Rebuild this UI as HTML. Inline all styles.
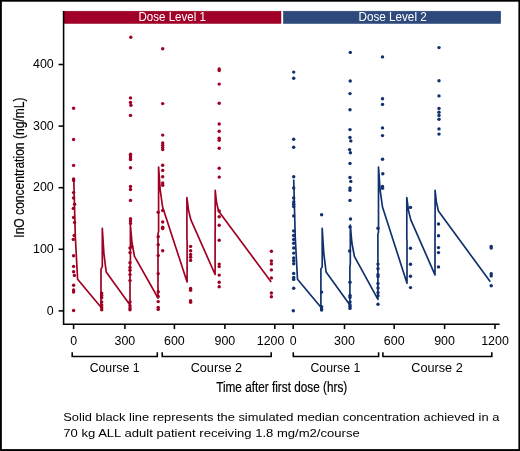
<!DOCTYPE html>
<html><head><meta charset="utf-8"><title>Figure</title>
<style>
html,body{margin:0;padding:0;background:#fff;}
body{width:520px;height:451px;overflow:hidden;position:relative;font-family:"Liberation Sans",sans-serif;}
</style></head><body>
<svg width="520" height="451" viewBox="0 0 520 451" style="position:absolute;left:0;top:0;will-change:transform;opacity:0.999">
<rect x="0" y="0" width="520" height="451" fill="#fff"/>
<rect x="0" y="0" width="520" height="1.7" fill="#000"/>
<rect x="0" y="449.1" width="520" height="1.9" fill="#000"/>
<rect x="0" y="0" width="1.85" height="451" fill="#000"/>
<rect x="518.4" y="0" width="1.6" height="451" fill="#000"/>
<rect x="63.2" y="11.2" width="217.8" height="12.3" fill="#a10028" stroke="#93001f" stroke-width="0.5"/>
<rect x="283.4" y="11.2" width="217.3" height="12.3" fill="#2e4a7c" stroke="#1f3c72" stroke-width="0.5"/>
<g stroke="#000" stroke-width="1.55" fill="none" stroke-linecap="butt">
<path d="M63.6,11 V324.9"/>
<path d="M63.6,324.15 H499.6"/>
<path d="M58.6,310.9 H63.6"/>
<path d="M58.6,249.3 H63.6"/>
<path d="M58.6,187.7 H63.6"/>
<path d="M58.6,126.1 H63.6"/>
<path d="M58.6,64.5 H63.6"/>
<path d="M73.6,324.15 V329.1"/>
<path d="M124.9,324.15 V329.1"/>
<path d="M174.4,324.15 V329.1"/>
<path d="M224.9,324.15 V329.1"/>
<path d="M274.8,324.15 V329.1"/>
<path d="M293.2,324.15 V329.1"/>
<path d="M344.5,324.15 V329.1"/>
<path d="M394.2,324.15 V329.1"/>
<path d="M444.6,324.15 V329.1"/>
<path d="M495.0,324.15 V329.1"/>
<path d="M72.2,352.3 V356.4 H157.3 V352.3"/>
<path d="M162.2,352.3 V356.4 H271.2 V352.3"/>
<path d="M293.3,352.3 V356.4 H378.6 V352.3"/>
<path d="M382.9,352.3 V356.4 H491.8 V352.3"/>
</g>
<polyline points="73.8,179.4 75.3,236.3 77.6,279.3 101.0,307.3 101.0,268.9 102.3,266.9 102.3,228.4 103.9,253.3 106.2,272.1 130.0,305.0 130.0,266.1 130.4,264.1 130.4,225.2 132.0,243.0 134.5,256.4 158.0,298.0 158.0,233.5 158.6,231.5 158.6,167.0 160.2,189.8 162.6,207.0 187.1,282.0 187.1,240.8 186.9,238.8 186.9,197.5 188.5,210.1 190.8,219.6 215.1,274.5 215.1,233.4 215.2,231.4 215.2,190.3 216.5,202.1 218.5,211.0 271.2,282.0" fill="none" stroke="#9f0023" stroke-width="1.68" stroke-linejoin="round"/>
<polyline points="293.7,179.4 295.2,236.3 297.5,279.3 320.9,307.3 320.9,268.9 322.2,266.9 322.2,228.4 323.8,253.3 326.1,272.1 349.9,305.0 349.9,266.1 350.3,264.1 350.3,225.2 351.9,243.0 354.4,256.4 377.9,299.4 377.9,234.2 378.5,232.2 378.5,167.0 380.1,189.8 382.5,207.0 407.0,283.2 407.0,241.3 406.8,239.3 406.8,197.5 408.4,210.1 410.7,219.6 435.0,274.9 435.0,233.6 435.1,231.6 435.1,190.3 436.4,202.1 438.4,211.0 490.3,281.8" fill="none" stroke="#10306e" stroke-width="1.68" stroke-linejoin="round"/>
<g fill="#9f0023"><circle cx="73.6" cy="108.3" r="1.72"/>
<circle cx="73.6" cy="139.5" r="1.72"/>
<circle cx="73.6" cy="165.4" r="1.72"/>
<circle cx="73.6" cy="179.0" r="1.72"/>
<circle cx="73.6" cy="180.4" r="1.72"/>
<circle cx="73.6" cy="192.6" r="1.72"/>
<circle cx="73.6" cy="198.0" r="1.72"/>
<circle cx="74.6" cy="204.3" r="1.72"/>
<circle cx="73.3" cy="208.4" r="1.72"/>
<circle cx="73.6" cy="217.5" r="1.72"/>
<circle cx="74.6" cy="222.4" r="1.72"/>
<circle cx="74.2" cy="235.5" r="1.72"/>
<circle cx="73.3" cy="239.4" r="1.72"/>
<circle cx="73.6" cy="255.7" r="1.72"/>
<circle cx="73.6" cy="266.4" r="1.72"/>
<circle cx="73.6" cy="271.8" r="1.72"/>
<circle cx="74.4" cy="275.4" r="1.72"/>
<circle cx="73.6" cy="285.2" r="1.72"/>
<circle cx="73.6" cy="290.0" r="1.72"/>
<circle cx="73.6" cy="292.1" r="1.72"/>
<circle cx="73.6" cy="310.5" r="1.72"/>
<circle cx="101.7" cy="293.1" r="1.72"/>
<circle cx="101.7" cy="295.4" r="1.72"/>
<circle cx="101.7" cy="297.7" r="1.72"/>
<circle cx="101.7" cy="301.9" r="1.72"/>
<circle cx="101.7" cy="305.0" r="1.72"/>
<circle cx="101.7" cy="307.4" r="1.72"/>
<circle cx="101.7" cy="309.7" r="1.72"/>
<circle cx="130.8" cy="37.2" r="1.72"/>
<circle cx="130.5" cy="97.9" r="1.72"/>
<circle cx="130.5" cy="102.5" r="1.72"/>
<circle cx="130.9" cy="105.3" r="1.72"/>
<circle cx="130.5" cy="115.4" r="1.72"/>
<circle cx="130.5" cy="154.2" r="1.72"/>
<circle cx="130.5" cy="156.1" r="1.72"/>
<circle cx="130.5" cy="158.0" r="1.72"/>
<circle cx="130.5" cy="159.6" r="1.72"/>
<circle cx="130.5" cy="167.8" r="1.72"/>
<circle cx="130.5" cy="186.4" r="1.72"/>
<circle cx="130.5" cy="189.5" r="1.72"/>
<circle cx="130.5" cy="200.4" r="1.72"/>
<circle cx="130.5" cy="218.7" r="1.72"/>
<circle cx="130.5" cy="220.9" r="1.72"/>
<circle cx="130.5" cy="223.4" r="1.72"/>
<circle cx="131.7" cy="246.4" r="1.72"/>
<circle cx="130.0" cy="248.0" r="1.72"/>
<circle cx="130.0" cy="252.6" r="1.72"/>
<circle cx="130.0" cy="262.7" r="1.72"/>
<circle cx="130.0" cy="267.5" r="1.72"/>
<circle cx="130.0" cy="270.3" r="1.72"/>
<circle cx="130.0" cy="274.6" r="1.72"/>
<circle cx="130.0" cy="280.6" r="1.72"/>
<circle cx="130.0" cy="301.9" r="1.72"/>
<circle cx="130.0" cy="305.8" r="1.72"/>
<circle cx="130.0" cy="308.1" r="1.72"/>
<circle cx="130.0" cy="309.7" r="1.72"/>
<circle cx="162.7" cy="48.8" r="1.72"/>
<circle cx="162.7" cy="103.6" r="1.72"/>
<circle cx="162.7" cy="135.1" r="1.72"/>
<circle cx="162.7" cy="142.9" r="1.72"/>
<circle cx="162.7" cy="145.2" r="1.72"/>
<circle cx="162.7" cy="147.6" r="1.72"/>
<circle cx="162.7" cy="149.6" r="1.72"/>
<circle cx="162.7" cy="165.2" r="1.72"/>
<circle cx="162.7" cy="170.4" r="1.72"/>
<circle cx="162.7" cy="176.8" r="1.72"/>
<circle cx="162.7" cy="183.0" r="1.72"/>
<circle cx="162.7" cy="185.3" r="1.72"/>
<circle cx="162.7" cy="210.5" r="1.72"/>
<circle cx="162.7" cy="222.0" r="1.72"/>
<circle cx="162.7" cy="227.2" r="1.72"/>
<circle cx="162.7" cy="228.6" r="1.72"/>
<circle cx="162.7" cy="250.8" r="1.72"/>
<circle cx="158.2" cy="212.3" r="1.72"/>
<circle cx="158.2" cy="236.8" r="1.72"/>
<circle cx="158.2" cy="244.8" r="1.72"/>
<circle cx="158.2" cy="255.4" r="1.72"/>
<circle cx="158.2" cy="273.6" r="1.72"/>
<circle cx="158.2" cy="291.8" r="1.72"/>
<circle cx="158.2" cy="296.5" r="1.72"/>
<circle cx="158.2" cy="301.6" r="1.72"/>
<circle cx="158.2" cy="307.4" r="1.72"/>
<circle cx="158.2" cy="309.4" r="1.72"/>
<circle cx="190.6" cy="246.4" r="1.72"/>
<circle cx="190.6" cy="250.7" r="1.72"/>
<circle cx="190.6" cy="254.5" r="1.72"/>
<circle cx="190.6" cy="257.3" r="1.72"/>
<circle cx="190.6" cy="260.4" r="1.72"/>
<circle cx="190.6" cy="288.5" r="1.72"/>
<circle cx="190.6" cy="290.3" r="1.72"/>
<circle cx="190.6" cy="300.7" r="1.72"/>
<circle cx="190.6" cy="302.2" r="1.72"/>
<circle cx="219.2" cy="69.0" r="1.72"/>
<circle cx="219.2" cy="70.6" r="1.72"/>
<circle cx="219.2" cy="84.1" r="1.72"/>
<circle cx="219.2" cy="103.3" r="1.72"/>
<circle cx="219.2" cy="124.0" r="1.72"/>
<circle cx="219.2" cy="131.3" r="1.72"/>
<circle cx="219.2" cy="138.3" r="1.72"/>
<circle cx="219.2" cy="140.3" r="1.72"/>
<circle cx="219.2" cy="148.2" r="1.72"/>
<circle cx="219.2" cy="168.2" r="1.72"/>
<circle cx="219.2" cy="177.1" r="1.72"/>
<circle cx="219.2" cy="210.9" r="1.72"/>
<circle cx="219.2" cy="216.7" r="1.72"/>
<circle cx="219.2" cy="225.3" r="1.72"/>
<circle cx="219.2" cy="240.2" r="1.72"/>
<circle cx="219.2" cy="264.1" r="1.72"/>
<circle cx="219.2" cy="266.6" r="1.72"/>
<circle cx="219.2" cy="275.1" r="1.72"/>
<circle cx="219.2" cy="282.3" r="1.72"/>
<circle cx="219.2" cy="286.8" r="1.72"/>
<circle cx="271.4" cy="251.2" r="1.72"/>
<circle cx="271.4" cy="261.0" r="1.72"/>
<circle cx="271.4" cy="263.9" r="1.72"/>
<circle cx="271.4" cy="269.9" r="1.72"/>
<circle cx="271.4" cy="277.9" r="1.72"/>
<circle cx="271.4" cy="293.0" r="1.72"/>
<circle cx="271.4" cy="296.8" r="1.72"/></g>
<g fill="#10306e"><circle cx="293.7" cy="72.1" r="1.72"/>
<circle cx="293.7" cy="78.3" r="1.72"/>
<circle cx="293.7" cy="139.3" r="1.72"/>
<circle cx="293.7" cy="147.3" r="1.72"/>
<circle cx="293.7" cy="176.8" r="1.72"/>
<circle cx="293.7" cy="188.0" r="1.72"/>
<circle cx="293.7" cy="198.0" r="1.72"/>
<circle cx="293.7" cy="201.9" r="1.72"/>
<circle cx="293.7" cy="204.3" r="1.72"/>
<circle cx="293.7" cy="206.6" r="1.72"/>
<circle cx="293.7" cy="215.9" r="1.72"/>
<circle cx="293.7" cy="230.9" r="1.72"/>
<circle cx="293.7" cy="235.5" r="1.72"/>
<circle cx="293.7" cy="239.4" r="1.72"/>
<circle cx="293.7" cy="243.3" r="1.72"/>
<circle cx="293.7" cy="248.0" r="1.72"/>
<circle cx="293.7" cy="253.1" r="1.72"/>
<circle cx="293.7" cy="258.0" r="1.72"/>
<circle cx="293.7" cy="260.8" r="1.72"/>
<circle cx="293.7" cy="263.8" r="1.72"/>
<circle cx="293.7" cy="273.4" r="1.72"/>
<circle cx="293.7" cy="277.5" r="1.72"/>
<circle cx="293.7" cy="279.4" r="1.72"/>
<circle cx="293.7" cy="288.2" r="1.72"/>
<circle cx="293.3" cy="310.8" r="1.72"/>
<circle cx="321.6" cy="214.7" r="1.72"/>
<circle cx="321.6" cy="292.1" r="1.72"/>
<circle cx="321.6" cy="306.6" r="1.72"/>
<circle cx="321.6" cy="308.9" r="1.72"/>
<circle cx="321.6" cy="310.0" r="1.72"/>
<circle cx="350.3" cy="52.4" r="1.72"/>
<circle cx="350.2" cy="81.0" r="1.72"/>
<circle cx="350.0" cy="93.6" r="1.72"/>
<circle cx="350.0" cy="109.8" r="1.72"/>
<circle cx="350.0" cy="129.6" r="1.72"/>
<circle cx="350.0" cy="137.5" r="1.72"/>
<circle cx="350.8" cy="140.9" r="1.72"/>
<circle cx="349.6" cy="149.6" r="1.72"/>
<circle cx="350.4" cy="152.7" r="1.72"/>
<circle cx="350.0" cy="163.4" r="1.72"/>
<circle cx="350.0" cy="177.5" r="1.72"/>
<circle cx="350.8" cy="181.4" r="1.72"/>
<circle cx="350.0" cy="188.0" r="1.72"/>
<circle cx="350.0" cy="190.3" r="1.72"/>
<circle cx="350.0" cy="200.4" r="1.72"/>
<circle cx="350.5" cy="219.0" r="1.72"/>
<circle cx="350.0" cy="226.9" r="1.72"/>
<circle cx="349.6" cy="251.0" r="1.72"/>
<circle cx="350.0" cy="282.3" r="1.72"/>
<circle cx="350.0" cy="295.4" r="1.72"/>
<circle cx="350.0" cy="297.3" r="1.72"/>
<circle cx="350.0" cy="301.9" r="1.72"/>
<circle cx="350.0" cy="305.0" r="1.72"/>
<circle cx="350.0" cy="306.6" r="1.72"/>
<circle cx="350.0" cy="308.4" r="1.72"/>
<circle cx="382.5" cy="56.9" r="1.72"/>
<circle cx="382.5" cy="98.7" r="1.72"/>
<circle cx="382.5" cy="104.4" r="1.72"/>
<circle cx="382.5" cy="127.9" r="1.72"/>
<circle cx="382.5" cy="135.6" r="1.72"/>
<circle cx="382.5" cy="159.2" r="1.72"/>
<circle cx="382.8" cy="173.7" r="1.72"/>
<circle cx="382.5" cy="186.4" r="1.72"/>
<circle cx="382.5" cy="188.3" r="1.72"/>
<circle cx="378.0" cy="228.2" r="1.72"/>
<circle cx="378.0" cy="264.1" r="1.72"/>
<circle cx="378.0" cy="268.7" r="1.72"/>
<circle cx="378.0" cy="274.6" r="1.72"/>
<circle cx="378.0" cy="276.5" r="1.72"/>
<circle cx="378.0" cy="283.5" r="1.72"/>
<circle cx="378.0" cy="288.0" r="1.72"/>
<circle cx="378.0" cy="292.6" r="1.72"/>
<circle cx="378.0" cy="295.7" r="1.72"/>
<circle cx="378.0" cy="304.3" r="1.72"/>
<circle cx="410.5" cy="207.4" r="1.72"/>
<circle cx="410.5" cy="248.3" r="1.72"/>
<circle cx="410.5" cy="264.3" r="1.72"/>
<circle cx="410.5" cy="276.3" r="1.72"/>
<circle cx="410.5" cy="287.6" r="1.72"/>
<circle cx="439.0" cy="47.6" r="1.72"/>
<circle cx="439.0" cy="80.8" r="1.72"/>
<circle cx="439.0" cy="95.9" r="1.72"/>
<circle cx="439.0" cy="108.4" r="1.72"/>
<circle cx="439.0" cy="112.3" r="1.72"/>
<circle cx="439.0" cy="115.4" r="1.72"/>
<circle cx="439.0" cy="119.2" r="1.72"/>
<circle cx="439.0" cy="128.9" r="1.72"/>
<circle cx="439.0" cy="134.1" r="1.72"/>
<circle cx="438.5" cy="224.0" r="1.72"/>
<circle cx="438.5" cy="235.8" r="1.72"/>
<circle cx="438.5" cy="247.6" r="1.72"/>
<circle cx="438.5" cy="252.6" r="1.72"/>
<circle cx="438.5" cy="266.9" r="1.72"/>
<circle cx="491.2" cy="246.4" r="1.72"/>
<circle cx="491.2" cy="248.0" r="1.72"/>
<circle cx="491.2" cy="273.8" r="1.72"/>
<circle cx="491.2" cy="275.9" r="1.72"/>
<circle cx="491.2" cy="285.7" r="1.72"/></g>
<g font-family="Liberation Sans, sans-serif" fill="#000">
<text x="53.7" y="314.5" font-size="12.4" text-anchor="end">0</text>
<text x="53.7" y="252.9" font-size="12.4" text-anchor="end">100</text>
<text x="53.7" y="191.3" font-size="12.4" text-anchor="end">200</text>
<text x="53.7" y="129.7" font-size="12.4" text-anchor="end">300</text>
<text x="53.7" y="68.1" font-size="12.4" text-anchor="end">400</text>
<text x="73.6" y="344.9" font-size="12.8" text-anchor="middle" textLength="6.9" lengthAdjust="spacingAndGlyphs">0</text>
<text x="124.9" y="344.9" font-size="12.8" text-anchor="middle" textLength="20.8" lengthAdjust="spacingAndGlyphs">300</text>
<text x="174.4" y="344.9" font-size="12.8" text-anchor="middle" textLength="20.8" lengthAdjust="spacingAndGlyphs">600</text>
<text x="224.9" y="344.9" font-size="12.8" text-anchor="middle" textLength="20.8" lengthAdjust="spacingAndGlyphs">900</text>
<text x="270.6" y="344.9" font-size="12.8" text-anchor="middle" textLength="27.7" lengthAdjust="spacingAndGlyphs">1200</text>
<text x="293.2" y="344.9" font-size="12.8" text-anchor="middle" textLength="6.9" lengthAdjust="spacingAndGlyphs">0</text>
<text x="344.5" y="344.9" font-size="12.8" text-anchor="middle" textLength="20.8" lengthAdjust="spacingAndGlyphs">300</text>
<text x="394.2" y="344.9" font-size="12.8" text-anchor="middle" textLength="20.8" lengthAdjust="spacingAndGlyphs">600</text>
<text x="444.6" y="344.9" font-size="12.8" text-anchor="middle" textLength="20.8" lengthAdjust="spacingAndGlyphs">900</text>
<text x="495.0" y="344.9" font-size="12.8" text-anchor="middle" textLength="27.7" lengthAdjust="spacingAndGlyphs">1200</text>
<text x="114.6" y="371.9" font-size="12.7" text-anchor="middle" textLength="49.9" lengthAdjust="spacingAndGlyphs">Course 1</text>
<text x="216.4" y="371.9" font-size="12.7" text-anchor="middle" textLength="51.5" lengthAdjust="spacingAndGlyphs">Course 2</text>
<text x="335.4" y="371.9" font-size="12.7" text-anchor="middle" textLength="49.9" lengthAdjust="spacingAndGlyphs">Course 1</text>
<text x="437.0" y="371.9" font-size="12.7" text-anchor="middle" textLength="51.5" lengthAdjust="spacingAndGlyphs">Course 2</text>
<text x="216.2" y="392.1" font-size="14.7" stroke="#000" stroke-width="0.2" textLength="131.0" lengthAdjust="spacingAndGlyphs">Time after first dose (hrs)</text>
<text transform="translate(24.3,237.7) rotate(-90)" font-size="14.3" stroke="#000" stroke-width="0.2" textLength="140.2" lengthAdjust="spacingAndGlyphs">InO concentration (ng/mL)</text>
<text x="63.3" y="421.2" font-size="11.7" textLength="436" lengthAdjust="spacingAndGlyphs">Solid black line represents the simulated median concentration achieved in a</text>
<text x="63.3" y="437.4" font-size="11.7" textLength="296.4" lengthAdjust="spacingAndGlyphs">70 kg ALL adult patient receiving 1.8 mg/m2/course</text>
</g>
<g font-family="Liberation Sans, sans-serif" fill="#fff">
<text x="172.2" y="21.0" font-size="11.9" text-anchor="middle" textLength="67.3" lengthAdjust="spacingAndGlyphs">Dose Level 1</text>
<text x="392.6" y="21.0" font-size="11.9" text-anchor="middle" textLength="68.3" lengthAdjust="spacingAndGlyphs">Dose Level 2</text>
</g>
</svg>
</body></html>
